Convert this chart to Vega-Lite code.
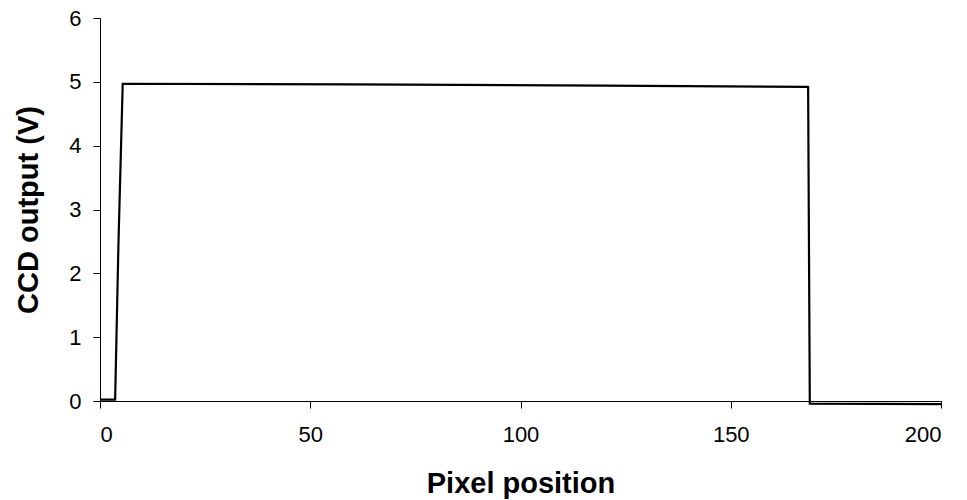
{
  "$schema": "https://vega.github.io/schema/vega-lite/v6.json",
  "width": 841,
  "height": 383,
  "autosize": "none",
  "padding": {"left": 100, "top": 18, "right": 26, "bottom": 99},
  "background": "white",
  "config": {"view": {"stroke": null}},
  "data": {"values": [
    {"pixel": 0, "v": 0.02},
    {"pixel": 3.6, "v": 0.02},
    {"pixel": 4.4, "v": 2.5},
    {"pixel": 5.4, "v": 4.97},
    {"pixel": 60, "v": 4.96},
    {"pixel": 120, "v": 4.94},
    {"pixel": 168.4, "v": 4.92},
    {"pixel": 168.8, "v": -0.04},
    {"pixel": 200, "v": -0.05}
  ]},
  "mark": {"type": "line", "color": "black", "strokeWidth": 2.2, "clip": false},
  "encoding": {
    "x": {"field": "pixel", "type": "quantitative",
      "scale": {"domain": [0, 200], "nice": false, "zero": false},
      "axis": {"title": "Pixel position", "values": [0, 50, 100, 150, 200], "grid": false,
        "domainColor": "black", "tickColor": "black", "tickSize": 7, "labelPadding": 16,
        "labelFont": "Liberation Sans", "labelFontSize": 22, "labelColor": "black",
        "titleFont": "Liberation Sans", "titleFontSize": 29, "titleFontWeight": "bold", "titleColor": "black", "titlePadding": 24}},
    "y": {"field": "v", "type": "quantitative",
      "scale": {"domain": [0, 6], "nice": false, "zero": false},
      "axis": {"title": "CCD output (V)", "values": [0, 1, 2, 3, 4, 5, 6], "grid": false,
        "domainColor": "black", "tickColor": "black", "tickSize": 7, "labelPadding": 12,
        "labelFont": "Liberation Sans", "labelFontSize": 22, "labelColor": "black",
        "titleFont": "Liberation Sans", "titleFontSize": 29, "titleFontWeight": "bold", "titleColor": "black", "titlePadding": 25}}
  }
}
